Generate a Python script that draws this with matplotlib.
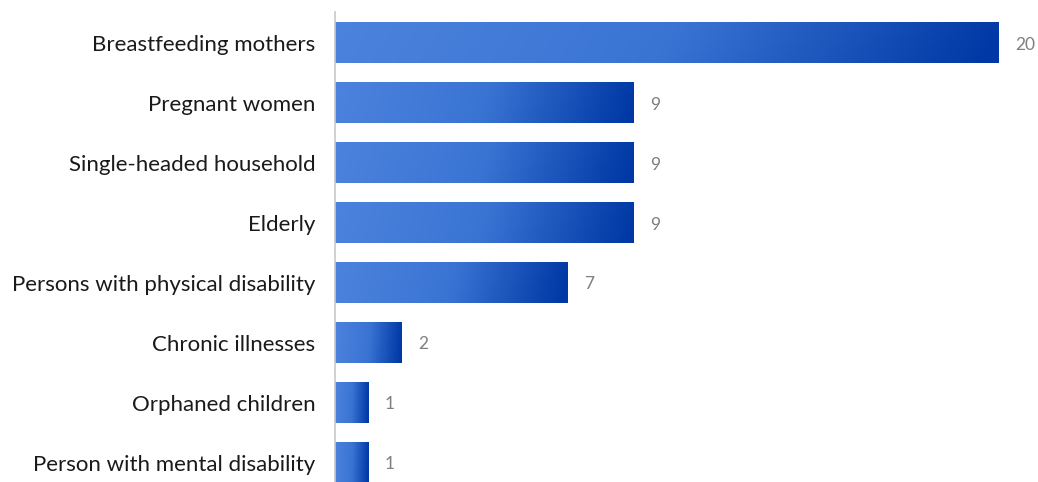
import numpy as np
import matplotlib
matplotlib.use('Agg')
import matplotlib.pyplot as plt
from matplotlib.colors import LinearSegmentedColormap

categories = ['Breastfeeding mothers', 'Pregnant women', 'Single-headed household', 'Elderly',
              'Persons with physical disability', 'Chronic illnesses', 'Orphaned children',
              'Person with mental disability']
counts = [20, 9, 9, 9, 7, 2, 1, 1]

plt.rcParams['font.family'] = ['Lato', 'DejaVu Sans']

fig = plt.figure(figsize=(10.38, 4.82), dpi=100)
ax = fig.add_axes([335 / 1038, 0, 703 / 1038, 470 / 482])

# 每个条形用左浅右深的渐变填充
cmap = LinearSegmentedColormap.from_list('bar_grad', ['#4b82dd', '#3a74d3', '#0038a5'])
bar_h = 0.67
gx = np.linspace(0, 1, 256)
gy = np.linspace(0, 1, 20)
grad = np.clip(gx[None, :] + 0.04 * (gy[:, None] - 0.5), 0, 1)
for i, v in enumerate(counts):
    ax.imshow(grad, cmap=cmap, aspect='auto', interpolation='bilinear',
              extent=[0, v, i + bar_h / 2, i - bar_h / 2], zorder=2)
    ax.text(v + 0.5, i, str(v), va='center_baseline', ha='left', fontsize=12.5, color='#7f7f7f')

ax.set_xlim(0, 21.2)
ax.set_ylim(7.317, -0.517)
ax.set_yticks(range(len(categories)))
ax.set_yticklabels(categories, fontsize=16, color='#1a1a1a')
ax.tick_params(axis='y', length=0, pad=14)
ax.set_xticks([])
for s in ['top', 'right', 'bottom']:
    ax.spines[s].set_visible(False)
ax.spines['left'].set_color('#c8c8c8')
ax.spines['left'].set_linewidth(1.2)

fig.savefig('out.png', dpi=100)
